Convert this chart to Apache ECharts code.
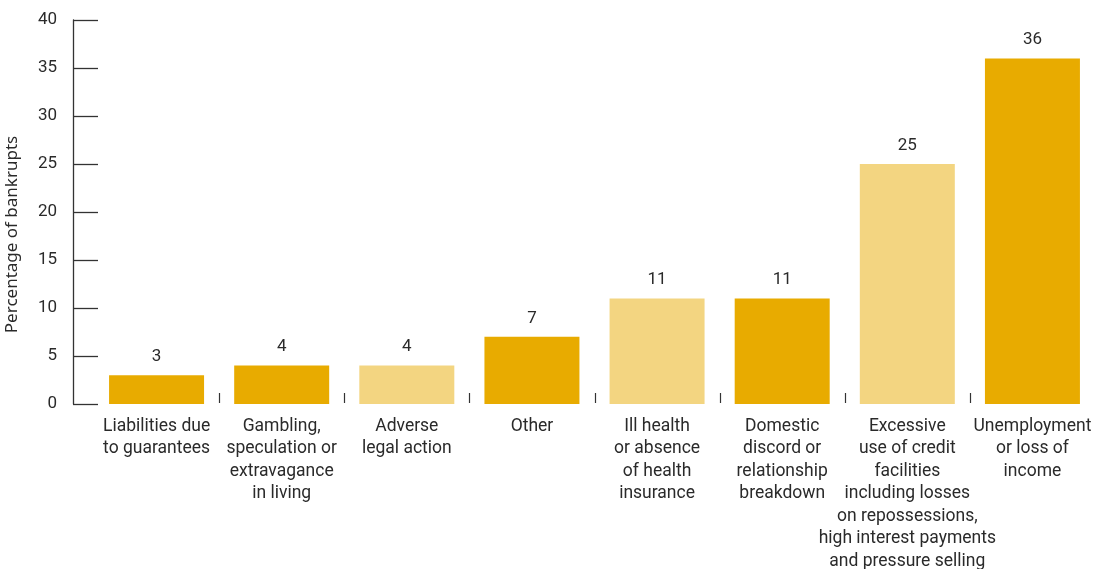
<!DOCTYPE html>
<html>
<head>
<meta charset="utf-8">
<script src="https://cdn.jsdelivr.net/npm/echarts@6/dist/echarts.min.js"></script>
<style>
  html, body { margin: 0; padding: 0; background: #fff; }
  #chart { width: 1097px; height: 569px; }
</style>
</head>
<body>
<div id="chart"></div>
<script>
// Causes of bankruptcy, percentage of bankrupts
const categories = [
  'Liabilities due\nto guarantees',
  'Gambling,\nspeculation or\nextravagance\nin living',
  'Adverse\nlegal action',
  'Other',
  'Ill health\nor absence\nof health\ninsurance',
  'Domestic\ndiscord or\nrelationship\nbreakdown',
  'Excessive\nuse of credit\nfacilities\nincluding losses\non repossessions,\nhigh interest payments\nand pressure selling',
  'Unemployment\nor loss of\nincome'
];
const values = [3, 4, 4, 7, 11, 11, 25, 36];
const yTicks = { min: 0, max: 40, step: 5 };

// Two shades of gold alternate across the bars
const DARK = '#E8AB00';
const LIGHT = '#F3D581';
const lightIndices = [2, 4, 6];

const FONT = 'Roboto, "DejaVu Sans", sans-serif';
const TITLE_FONT = '"Noto Sans", "Open Sans", sans-serif';
const INK = '#2a2a2a';

const chart = echarts.init(document.getElementById('chart'), null, { renderer: 'canvas' });

chart.setOption({
  animation: false,
  backgroundColor: '#fff',
  textStyle: { fontFamily: FONT },
  grid: { left: 94, right: 2, top: 20, bottom: 165, containLabel: false, outerBoundsMode: 'none' },
  xAxis: {
    type: 'category',
    data: categories,
    boundaryGap: true,
    axisLine: { show: false },
    axisTick: { show: false },
    axisLabel: {
      interval: 0,
      margin: 11,
      color: INK,
      fontSize: 17.5,
      lineHeight: 22.5,
      fontFamily: FONT,
      align: 'center',
      verticalAlign: 'top',
      hideOverlap: false
    },
    splitLine: { show: false }
  },
  yAxis: {
    type: 'value',
    min: yTicks.min,
    max: yTicks.max,
    interval: yTicks.step,
    offset: 21,
    name: 'Percentage of bankrupts',
    nameLocation: 'middle',
    nameGap: 52,
    nameRotate: 90,
    nameTextStyle: {
      color: INK,
      fontSize: 17,
      fontFamily: TITLE_FONT,
      // pushes the rotated title a little lower along the axis
      padding: [0, 45, 0, 0]
    },
    axisLine: { show: true, lineStyle: { color: '#333', width: 1.3 } },
    axisTick: { show: true, inside: true, length: 25, lineStyle: { color: '#333', width: 1.3 } },
    axisLabel: { margin: 16, color: INK, fontSize: 17, fontFamily: FONT },
    splitLine: { show: false }
  },
  series: [
    {
      type: 'bar',
      barWidth: 95,
      data: values.map((v, i) => ({
        value: v,
        itemStyle: { color: lightIndices.includes(i) ? LIGHT : DARK }
      })),
      label: {
        show: true,
        position: 'top',
        distance: 10,
        color: INK,
        fontSize: 17,
        fontFamily: FONT
      }
    },
    {
      // short separator marks between neighbouring categories
      type: 'custom',
      silent: true,
      data: categories.slice(1).map((c, i) => [i + 1, 0]),
      renderItem: function (params, api) {
        const base = api.coord([api.value(0), api.value(1)]);
        const band = api.size([1, 0])[0];
        const x = Math.round(base[0] - band / 2) + 0.5;
        return {
          type: 'line',
          shape: { x1: x, y1: base[1] - 11, x2: x, y2: base[1] - 1 },
          style: { stroke: '#333', lineWidth: 1.2 }
        };
      }
    }
  ]
});
</script>
</body>
</html>
